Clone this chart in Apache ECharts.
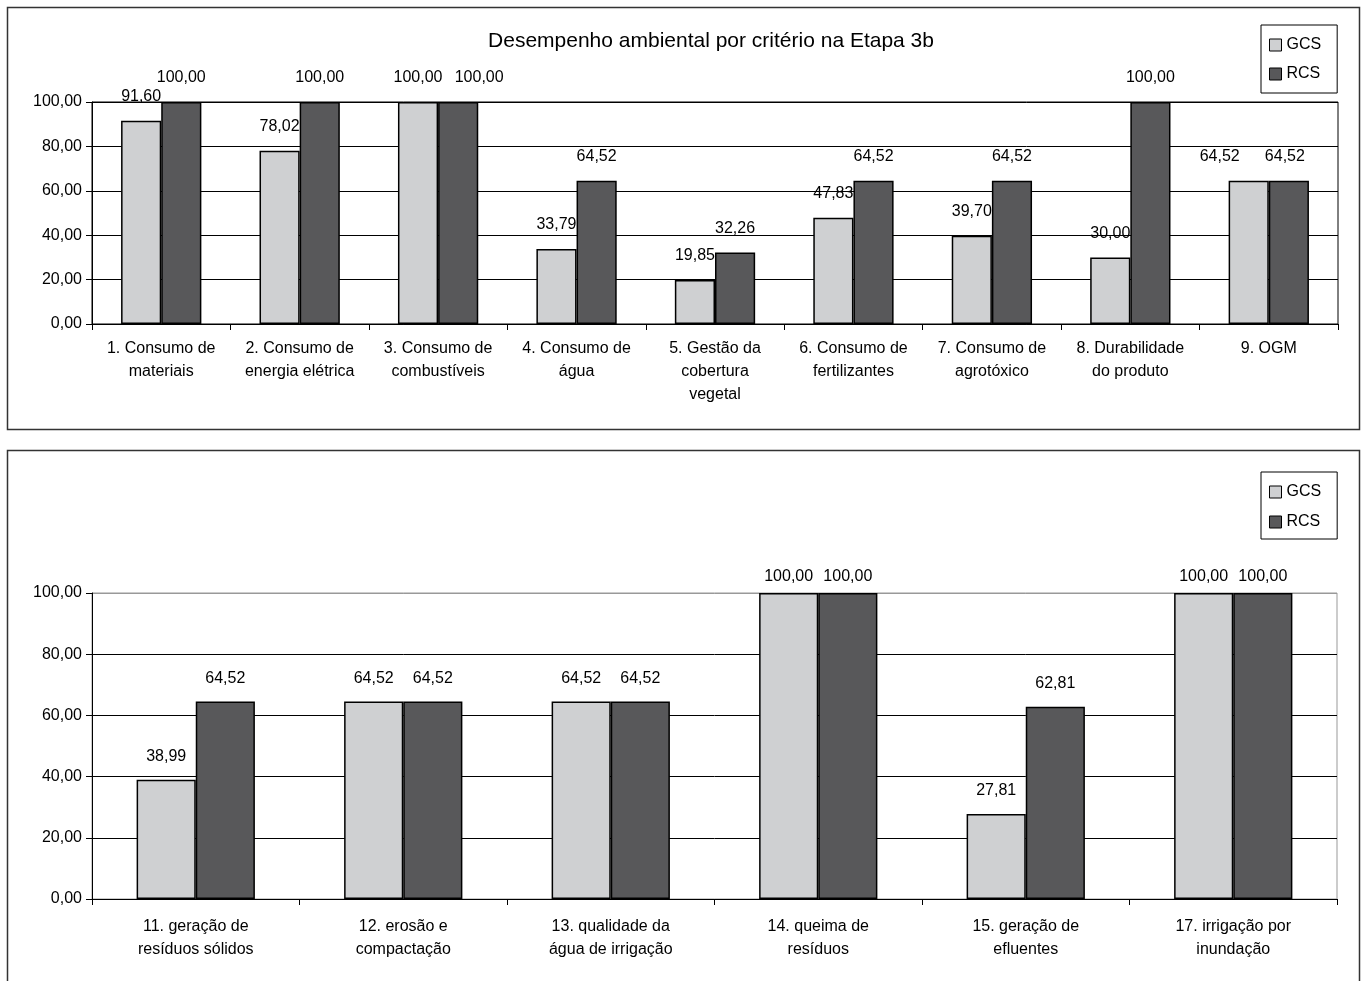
<!DOCTYPE html>
<html>
<head>
<meta charset="utf-8">
<script src="https://cdn.jsdelivr.net/npm/echarts@6/dist/echarts.min.js"></script>
<style>
html,body{margin:0;padding:0;background:#fff;}
#c{width:1363px;height:981px;}
</style>
</head>
<body>
<div id="c"></div>
<script>
const titleText = 'Desempenho ambiental por critério na Etapa 3b';
const seriesNames = ['GCS', 'RCS'];
const topCategories = [
  '1. Consumo de\nmateriais',
  '2. Consumo de\nenergia elétrica',
  '3. Consumo de\ncombustíveis',
  '4. Consumo de\nágua',
  '5. Gestão da\ncobertura\nvegetal',
  '6. Consumo de\nfertilizantes',
  '7. Consumo de\nagrotóxico',
  '8. Durabilidade\ndo produto',
  '9. OGM'
];
const topGCS = [91.60, 78.02, 100.00, 33.79, 19.85, 47.83, 39.70, 30.00, 64.52];
const topRCS = [100.00, 100.00, 100.00, 64.52, 32.26, 64.52, 64.52, 100.00, 64.52];

const bottomCategories = [
  '11. geração de\nresíduos sólidos',
  '12. erosão e\ncompactação',
  '13. qualidade da\nágua de irrigação',
  '14. queima de\nresíduos',
  '15. geração de\nefluentes',
  '17. irrigação por\ninundação'
];
const bottomGCS = [38.99, 64.52, 64.52, 100.00, 27.81, 100.00];
const bottomRCS = [64.52, 64.52, 64.52, 100.00, 62.81, 100.00];

const yMin = 0, yMax = 100, yInterval = 20;

const FONT = '"Liberation Sans", Arial, sans-serif';
const colors = ['#cfd0d2', '#58585a'];
const fmt = v => v.toFixed(2).replace('.', ',');

const chart = echarts.init(document.getElementById('c'), null, {renderer: 'canvas'});

function yAxis(gridIndex, splitColors) {
  return {
    type: 'value', gridIndex, min: yMin, max: yMax, interval: yInterval,
    axisLine: {show: true, lineStyle: {color: '#000', width: 1}},
    axisTick: {show: true, inside: false, length: 6, lineStyle: {color: '#000'}},
    axisLabel: {formatter: fmt, color: '#000', fontSize: 16, fontFamily: FONT, margin: 10},
    splitLine: {show: true, lineStyle: {color: splitColors, width: 1}}
  };
}
function xAxis(gridIndex, data, margin, lh) {
  return {
    type: 'category', gridIndex, data,
    axisLine: {show: true, lineStyle: {color: '#000', width: 1}},
    axisTick: {show: true, inside: false, length: 6, alignWithLabel: false, lineStyle: {color: '#000'}},
    axisLabel: {color: '#000', fontSize: 16, fontFamily: FONT, margin, lineHeight: lh, interval: 0},
    splitLine: {show: false}
  };
}
// Label layout rule for narrow bars: when both bars of a category tie (labels would
// collide), push the labels apart; at the last category push them leftwards.
function tieShift(a, b, idx, which) {
  return a.map((v, i) => {
    if (Math.abs(a[i] - b[i]) > 1e-9) return 0;
    const last = i === a.length - 1;
    if (which === 0) return last ? -29 : 0;
    return last ? -4 : 21;
  });
}
function barSeries(name, data, idx, xi, gap, distFn, shifts) {
  return {
    type: 'bar', name, xAxisIndex: xi, yAxisIndex: xi,
    data: data.map((v, i) => ({value: v, label: {distance: distFn(v), offset: [shifts ? shifts[i] : 0, 0]}})),
    barGap: '0%', barCategoryGap: gap,
    itemStyle: {color: colors[idx], borderColor: '#000', borderWidth: 1.5},
    label: {show: true, position: 'top', formatter: p => fmt(p.value), color: '#000', fontSize: 16, fontFamily: FONT},
    legendHoverLink: false
  };
}

const legendBase = {
  data: seriesNames, orient: 'vertical', left: 1261,
  itemWidth: 12, itemHeight: 12, icon: 'rect',
  borderColor: '#000', borderWidth: 1, selectedMode: false,
  textStyle: {fontSize: 16, color: '#000', fontFamily: FONT, lineHeight: 16},
  itemStyle: {borderColor: '#000', borderWidth: 1}
};

const option = {
  animation: false,
  textStyle: {fontFamily: FONT},
  title: {
    text: titleText, left: 711, top: 31, textAlign: 'center', padding: 0,
    textStyle: {fontSize: 21, fontWeight: 'normal', color: '#000', fontFamily: FONT}
  },
  legend: [
    Object.assign({}, legendBase, {top: 25, padding: [12, 16, 11, 8], itemGap: 13}),
    Object.assign({}, legendBase, {top: 472, padding: [12, 16, 9, 8], itemGap: 14})
  ],
  grid: [
    {left: 92, top: 102, width: 1246, height: 222, show: true, borderColor: '#000', borderWidth: 1, backgroundColor: 'transparent'},
    {left: 92, top: 593, width: 1245, height: 306, show: true, borderColor: '#999', borderWidth: 1, backgroundColor: 'transparent'}
  ],
  xAxis: [xAxis(0, topCategories, 13, 23), xAxis(1, bottomCategories, 16, 23)],
  yAxis: [yAxis(0, '#000'), yAxis(1, ['#000', '#000', '#000', '#000', '#000', '#999'])],
  series: [
    barSeries(seriesNames[0], topGCS, 0, 0, '42%', v => 16, tieShift(topGCS, topRCS, 0, 0)),
    barSeries(seriesNames[1], topRCS, 1, 0, '42%', v => 16, tieShift(topGCS, topRCS, 0, 1)),
    barSeries(seriesNames[0], bottomGCS, 0, 1, '43%', v => v >= 100 ? 8 : 15, null),
    barSeries(seriesNames[1], bottomRCS, 1, 1, '43%', v => v >= 100 ? 8 : 15, null)
  ],
  graphic: [
    {type: 'rect', shape: {x: 7.5, y: 7.5, width: 1352, height: 422}, style: {fill: 'none', stroke: '#333', lineWidth: 1.5}, silent: true},
    {type: 'rect', shape: {x: 7.5, y: 450.5, width: 1352, height: 560}, style: {fill: 'none', stroke: '#333', lineWidth: 1.5}, silent: true}
  ]
};
chart.setOption(option);
</script>
</body>
</html>
